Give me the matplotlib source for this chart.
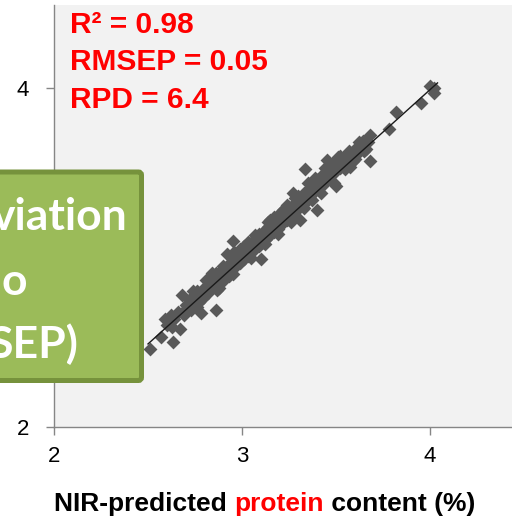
import matplotlib
matplotlib.use("Agg")
import matplotlib.pyplot as plt
from matplotlib.patches import FancyBboxPatch

# ---- data ----
pred_x = [2.51, 2.57, 2.635, 2.59, 2.60, 2.63, 2.67, 2.64, 2.66, 2.68, 2.70, 2.71, 2.72, 2.73,
          2.74, 2.75, 2.76, 2.77, 2.78, 2.78, 2.79, 2.80, 2.81, 2.82, 2.83, 2.84, 2.85, 2.86,
          2.865, 2.87, 2.88, 2.89, 2.90, 2.91, 2.92, 2.92, 2.93, 2.94, 2.95, 2.95, 2.96, 2.97,
          2.98, 2.99, 3.00, 3.01, 3.02, 3.03, 3.04, 3.05, 3.06, 3.07, 3.08, 3.09, 3.10, 3.10,
          3.11, 3.12, 3.13, 3.14, 3.15, 3.15, 3.16, 3.17, 3.18, 3.19, 3.20, 3.21, 3.22, 3.22,
          3.23, 3.24, 3.25, 3.26, 3.27, 3.27, 3.28, 3.29, 3.30, 3.31, 3.31, 3.32, 3.33, 3.335,
          3.34, 3.35, 3.36, 3.37, 3.38, 3.39, 3.40, 3.40, 3.41, 3.42, 3.43, 3.44, 3.45, 3.45,
          3.46, 3.47, 3.48, 3.49, 3.50, 3.50, 3.51, 3.52, 3.53, 3.54, 3.55, 3.575, 3.58, 3.59,
          3.60, 3.62, 3.63, 3.645, 3.65, 3.68, 3.67, 3.78, 3.82, 3.95, 4.00, 4.02, 4.02,
          2.62, 2.69, 2.74, 2.76, 2.80, 2.83, 2.86, 2.88, 2.90, 2.93, 2.96, 2.99, 3.01, 3.03,
          3.05, 3.07, 3.09, 3.12, 3.14, 3.17, 3.19, 3.21, 3.24, 3.26, 3.28, 3.30, 3.33, 3.35,
          3.37, 3.39, 3.42, 3.44, 3.47, 3.49, 3.52, 3.55, 3.57, 3.60, 3.62, 3.66, 3.68]
ref_y = [2.46, 2.53, 2.50, 2.64, 2.60, 2.59, 2.58, 2.64, 2.68, 2.78, 2.72, 2.70, 2.75, 2.69,
         2.76, 2.72, 2.80, 2.74, 2.67, 2.78, 2.76, 2.82, 2.87, 2.79, 2.84, 2.91, 2.83, 2.69,
         2.81, 2.88, 2.85, 2.92, 2.86, 2.94, 3.02, 2.90, 2.96, 2.91, 3.10, 2.90, 2.99, 2.95,
         3.02, 2.97, 3.04, 2.99, 3.06, 3.01, 3.08, 3.03, 3.10, 3.05, 3.12, 3.07, 2.99, 3.13,
         3.09, 3.16, 3.11, 3.18, 3.22, 3.13, 3.20, 3.15, 3.23, 3.17, 3.25, 3.19, 3.28, 3.21,
         3.26, 3.22, 3.30, 3.24, 3.38, 3.31, 3.27, 3.33, 3.29, 3.22, 3.35, 3.31, 3.38, 3.52,
         3.33, 3.40, 3.36, 3.43, 3.38, 3.45, 3.28, 3.46, 3.41, 3.48, 3.43, 3.50, 3.575, 3.46,
         3.52, 3.48, 3.55, 3.50, 3.42, 3.56, 3.595, 3.53, 3.58, 3.55, 3.60, 3.535, 3.61, 3.57,
         3.64, 3.62, 3.66, 3.69, 3.63, 3.57, 3.68, 3.76, 3.86, 3.91, 4.01, 3.97, 4.00,
         2.66, 2.66, 2.80, 2.71, 2.77, 2.88, 2.91, 2.82, 2.95, 2.89, 3.03, 3.05, 3.07, 3.09,
         3.00, 3.13, 3.14, 3.08, 3.21, 3.24, 3.14, 3.27, 3.31, 3.21, 3.35, 3.36, 3.29, 3.44,
         3.34, 3.47, 3.38, 3.53, 3.55, 3.44, 3.60, 3.52, 3.63, 3.58, 3.68, 3.64, 3.72]
fit_x = [2.50, 4.04]
fit_y = [2.49, 4.03]
x_ticks = [2, 3, 4]
y_ticks = [2, 4]
stats_lines = ["R\u00b2 = 0.98", "RMSEP = 0.05", "RPD = 6.4"]
box_lines = ["viation", "o", "SEP)"]

W, H = 512, 521
fig = plt.figure(figsize=(W / 100, H / 100), dpi=100)
fig.patch.set_facecolor("white")

def fx(px):
    return px / W

def fy(py):
    return 1 - py / H

ax = fig.add_axes([fx(54), fy(427), (W - 54) / W, (427 - 5) / H])
ax.set_facecolor("#F2F2F2")
ax.set_xlim(2, 2 + (W - 54) / 188.0)
ax.set_ylim(2, 2 + (427 - 5) / 169.5)

ax.scatter(pred_x, ref_y, marker="D", s=50, color="#595959", linewidths=0, zorder=3)
ax.plot(fit_x, fit_y, color="#1a1a1a", lw=1.0, zorder=4)

for s in ["top", "right"]:
    ax.spines[s].set_visible(False)
for s in ["left", "bottom"]:
    ax.spines[s].set_color("#868686")
    ax.spines[s].set_linewidth(1.0)

ax.set_xticks(x_ticks)
ax.set_yticks(y_ticks)
ax.set_xticklabels([str(v) for v in x_ticks])
ax.set_yticklabels([str(v) for v in y_ticks])
ax.tick_params(axis="both", direction="out", length=6, width=1, color="#868686",
               labelsize=16, labelcolor="black")
ax.tick_params(axis="x", pad=8)
ax.tick_params(axis="y", pad=12)
for lab in ax.get_xticklabels() + ax.get_yticklabels():
    lab.set_fontfamily("Liberation Sans")

# red stats text
for i, t in enumerate(stats_lines):
    fig.text(fx(70), fy(33 + 37.5 * i), t, color="red", fontsize=21.5,
             fontweight="bold", family="Liberation Sans", va="baseline", ha="left")

# green box overlay
box = FancyBboxPatch((fx(-30), fy(380.5)), fx(141.5) - fx(-30), fy(172) - fy(380.5),
                     boxstyle="round,pad=0,rounding_size=0.006",
                     transform=fig.transFigure, facecolor="#9BBB59",
                     edgecolor="#76923C", linewidth=3.6, zorder=10)
fig.add_artist(box)
box_pos = [(128, 230), (27, 295), (79, 358)]
for t, (rx, by) in zip(box_lines, box_pos):
    fig.text(fx(rx), fy(by), t, color="white", fontsize=32, fontweight="bold",
             family="Lato", ha="right", va="baseline", zorder=11)

# x label with a red word
parts = [("NIR-predicted ", "black"), ("protein", "red"), (" content (%)", "black")]
fig.canvas.draw()
renderer = fig.canvas.get_renderer()
texts = []
for s, c in parts:
    texts.append(fig.text(0, fy(511), s, color=c, fontsize=19, fontweight="bold",
                          family="Liberation Sans", ha="left", va="baseline"))
widths = [t.get_window_extent(renderer).width for t in texts]
total = sum(widths)
x0 = 265 - total / 2
for t, w in zip(texts, widths):
    t.set_x(fx(x0))
    x0 += w

fig.savefig("out.png", dpi=100)
